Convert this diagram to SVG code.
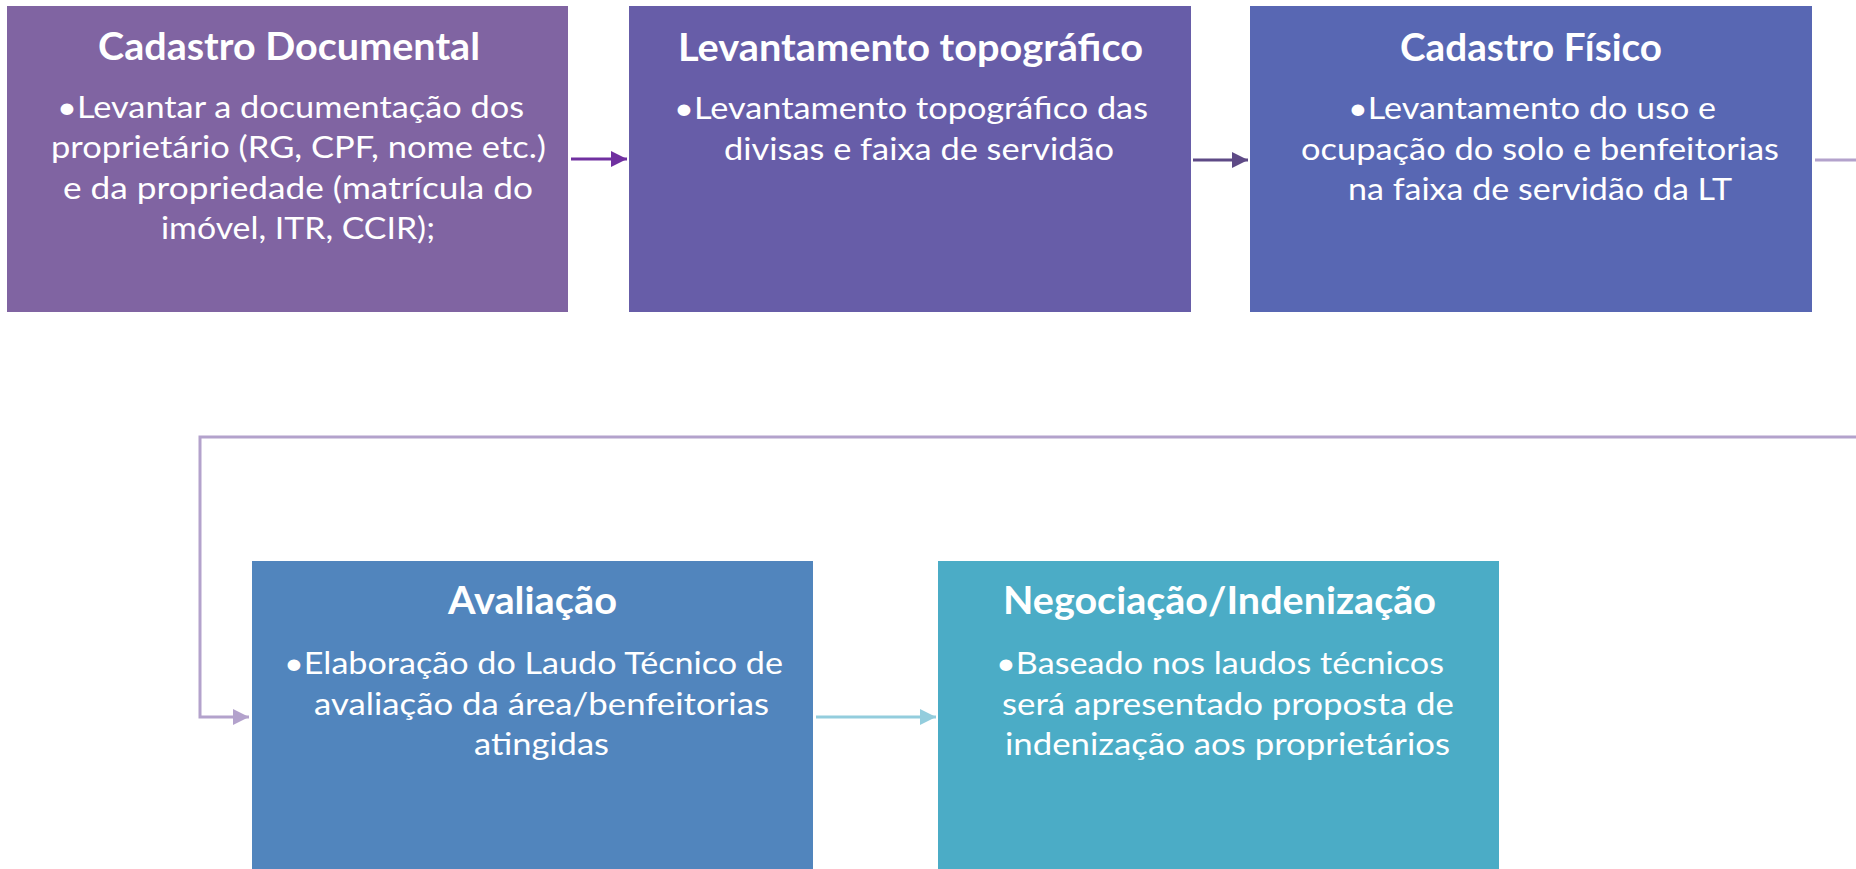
<svg xmlns="http://www.w3.org/2000/svg" width="1856" height="869" viewBox="0 0 1856 869">
<defs>
<style>
.t{font-family:Lato,"Open Sans","Liberation Sans",sans-serif;font-weight:bold;font-size:38px;fill:#fff;text-anchor:middle}
.b{font-family:Lato,"Open Sans","Liberation Sans",sans-serif;font-size:30.5px;fill:#fff;text-anchor:middle}
.c{fill:none;stroke-width:3}
</style>
<marker id="m1" markerUnits="userSpaceOnUse" markerWidth="18" markerHeight="16" refX="16" refY="8" orient="auto"><path d="M0,0 L16,8 L0,16 Z" fill="#7030A0"/></marker>
<marker id="m2" markerUnits="userSpaceOnUse" markerWidth="18" markerHeight="16" refX="16" refY="8" orient="auto"><path d="M0,0 L16,8 L0,16 Z" fill="#5E4A86"/></marker>
<marker id="m3" markerUnits="userSpaceOnUse" markerWidth="18" markerHeight="16" refX="16" refY="8" orient="auto"><path d="M0,0 L16,8 L0,16 Z" fill="#B3A2CC"/></marker>
<marker id="m4" markerUnits="userSpaceOnUse" markerWidth="18" markerHeight="16" refX="16" refY="8" orient="auto"><path d="M0,0 L16,8 L0,16 Z" fill="#93CDDD"/></marker>
</defs>
<rect width="1856" height="869" fill="#fff"/>
<g id="connectors">
<path class="c" d="M571,159 H627" stroke="#7030A0" marker-end="url(#m1)"/>
<path class="c" d="M1193,160 H1248" stroke="#5E4A86" marker-end="url(#m2)"/>
<path class="c" d="M1815,160 H1870 V437 H200 V717 H249" stroke="#B3A2CC" marker-end="url(#m3)"/>
<path class="c" d="M816,717 H936" stroke="#93CDDD" marker-end="url(#m4)"/>
</g>
<g id="node1">
<rect x="7" y="6" width="561" height="306" fill="#8064A2"/>
<text class="t" x="289" y="60" textLength="382" lengthAdjust="spacingAndGlyphs">Cadastro Documental</text>
<text class="b" x="290.5" y="118" textLength="467" lengthAdjust="spacingAndGlyphs">•Levantar a documentação dos</text>
<text class="b" x="298.5" y="158" textLength="495" lengthAdjust="spacingAndGlyphs">proprietário (RG, CPF, nome etc.)</text>
<text class="b" x="298" y="198.5" textLength="470" lengthAdjust="spacingAndGlyphs">e da propriedade (matrícula do</text>
<text class="b" x="298" y="239" textLength="274" lengthAdjust="spacingAndGlyphs">imóvel, ITR, CCIR);</text>
</g>
<g id="node2">
<rect x="629" y="6" width="562" height="306" fill="#675DA8"/>
<text class="t" x="910.5" y="61" textLength="465" lengthAdjust="spacingAndGlyphs">Levantamento topográfico</text>
<text class="b" x="911" y="119" textLength="474" lengthAdjust="spacingAndGlyphs">•Levantamento topográfico das</text>
<text class="b" x="919" y="159.5" textLength="390" lengthAdjust="spacingAndGlyphs">divisas e faixa de servidão</text>
</g>
<g id="node3">
<rect x="1250" y="6" width="562" height="306" fill="#5867B3"/>
<text class="t" x="1531" y="61" textLength="262" lengthAdjust="spacingAndGlyphs">Cadastro Físico</text>
<text class="b" x="1532" y="119" textLength="368" lengthAdjust="spacingAndGlyphs">•Levantamento do uso e</text>
<text class="b" x="1540" y="159.5" textLength="478" lengthAdjust="spacingAndGlyphs">ocupação do solo e benfeitorias</text>
<text class="b" x="1540" y="200" textLength="384" lengthAdjust="spacingAndGlyphs">na faixa de servidão da LT</text>
</g>
<g id="node4">
<rect x="252" y="561" width="561" height="320" fill="#5185BD"/>
<text class="t" x="532.5" y="614" textLength="169" lengthAdjust="spacingAndGlyphs">Avaliação</text>
<text class="b" x="533.5" y="674" textLength="499" lengthAdjust="spacingAndGlyphs">•Elaboração do Laudo Técnico de</text>
<text class="b" x="541.5" y="714.5" textLength="455" lengthAdjust="spacingAndGlyphs">avaliação da área/benfeitorias</text>
<text class="b" x="541.5" y="755" textLength="135" lengthAdjust="spacingAndGlyphs">atingidas</text>
</g>
<g id="node5">
<rect x="938" y="561" width="561" height="320" fill="#4BACC6"/>
<text class="t" x="1219.5" y="614" textLength="433" lengthAdjust="spacingAndGlyphs">Negociação/Indenização</text>
<text class="b" x="1220" y="674" textLength="448" lengthAdjust="spacingAndGlyphs">•Baseado nos laudos técnicos</text>
<text class="b" x="1228" y="714.5" textLength="452" lengthAdjust="spacingAndGlyphs">será apresentado proposta de</text>
<text class="b" x="1227.5" y="755" textLength="445" lengthAdjust="spacingAndGlyphs">indenização aos proprietários</text>
</g>
</svg>
